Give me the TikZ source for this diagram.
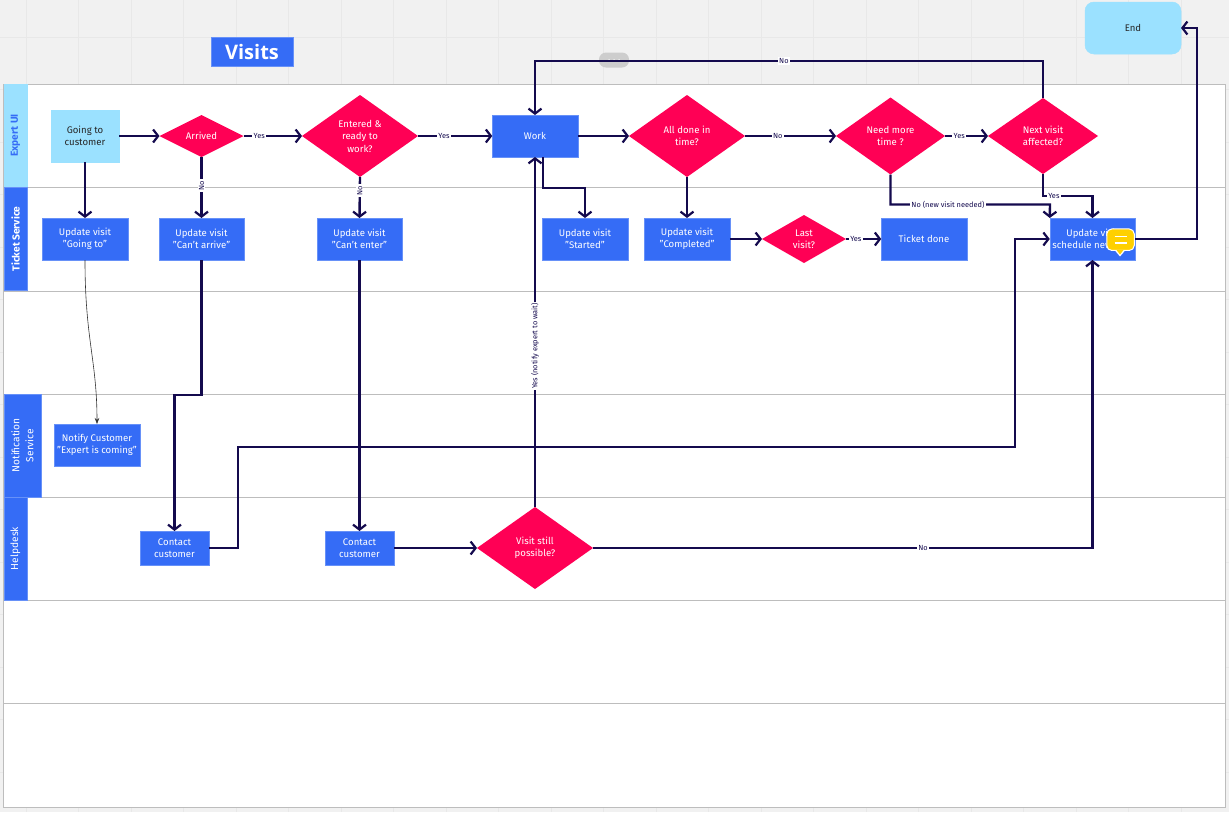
\documentclass[tikz,border=0pt]{standalone}
\usepackage{fontspec}
\setmainfont{Fira Sans}
\newfontfamily\titlefont{Open Sans}
\usepackage{xcolor}
\usetikzlibrary{arrows.meta}
\usetikzlibrary{shapes.geometric}
\definecolor{canvas}{HTML}{F1F1F1}
\definecolor{gridline}{HTML}{E8E8E8}
\definecolor{laneline}{HTML}{BDBDBD}
\definecolor{boxblue}{HTML}{356CF6}
\definecolor{paleblue}{HTML}{9BE1FF}
\definecolor{hotpink}{HTML}{FF0055}
\definecolor{navy}{HTML}{140A4E}
\definecolor{noteyellow}{HTML}{FFD000}
\tikzstyle{arrow} = [line width=2.4pt,draw=navy,-{Straight Barb[length=5pt,width=13pt,line width=2.2pt]}]
\tikzstyle{thinarrow} = [line width=0.6pt,draw=black!80,-{Stealth[length=6pt,width=4.5pt]}]
\tikzstyle{proc} = [rectangle,fill=boxblue,draw=boxblue!75!white,line width=0.5pt,text=white,font=\fontsize{9.6}{12.5}\selectfont,align=center,minimum width=85.5pt,minimum height=42pt,inner sep=0pt,outer sep=0pt]
\tikzstyle{contact} = [proc,minimum width=69pt,minimum height=34pt]
\tikzstyle{start} = [proc,fill=paleblue,draw=paleblue,text=black!85]
\tikzstyle{decide} = [diamond,aspect=1.4,fill=hotpink,text=white,font=\fontsize{9.6}{12.5}\selectfont,align=center,inner sep=0pt,outer sep=0pt,minimum width=116pt,minimum height=82pt]
\tikzstyle{lane} = [rectangle,rotate=90,fill=boxblue,draw=boxblue!75!white,line width=0.5pt,text=white,align=center,inner sep=0pt,outer sep=0pt,minimum width=103pt,minimum height=23pt,font=\fontsize{10.2}{14}\selectfont]
\tikzstyle{lbl} = [fill=white,text=navy,font=\fontsize{7.4}{8}\selectfont,inner xsep=1.5pt,inner ysep=1pt]
\begin{document}
\begin{tikzpicture}[x=1pt,y=-1pt]
    \useasboundingbox (0,0) rectangle (1229,812);

    % board behind the table
    \fill[canvas] (0,0) rectangle (1229,812);
    \foreach \gx in {26,78.5,...,1229} \draw[gridline] (\gx,0) -- (\gx,812);
    \foreach \gy in {37,89.5,...,812} \draw[gridline] (0,\gy) -- (1229,\gy);
    \fill[white] (3.5,84) rectangle (1225,807);
    \draw[laneline] (3.5,84) rectangle (1225,807);
    \foreach \ly in {187,291,394,497,600,703} \draw[laneline] (3.5,\ly) -- (1225,\ly);

    \node[rectangle,rounded corners=7pt,fill=canvas!85!black,minimum width=30pt,minimum height=15pt,inner sep=0pt] (pill) at (614,60) {};
    \foreach \dx in {-5,0,5} \fill[canvas] (614+\dx,60) circle (1pt);

    \node[proc,minimum width=82pt,minimum height=29pt,font=\titlefont\fontsize{20}{24}\selectfont\bfseries] (title) at (252,51.5) {Visits};

    % lanes
    \node[lane,fill=paleblue,draw=paleblue,text=boxblue,font=\fontsize{10.2}{14}\selectfont\bfseries] (laneui) at (15.5,135.5) {Expert UI};
    \node[lane,font=\fontsize{10.2}{14}\selectfont\bfseries] (laneticket) at (15.5,239) {Ticket Service};
    \node[lane,minimum height=37pt] (lanenotify) at (22.5,445.5) {Notification\\Service};
    \node[lane,font=\fontsize{10.2}{14}\selectfont\fontseries{l}\selectfont] (lanehelp) at (15.5,548.5) {Helpdesk};

    % top row
    \node[start,minimum width=68pt,minimum height=52pt] (going) at (85,136) {Going to\\customer};
    \node[decide,minimum width=84pt,minimum height=42pt] (arrived) at (201.5,136) {Arrived};
    \node[decide] (entered) at (360,136) {Entered \&\\ready to\\work?};
    \node[proc] (work) at (535,136) {Work};
    \node[decide] (alldone) at (687,136) {All done in\\time?};
    \node[decide,minimum width=109pt,minimum height=77pt] (needmore) at (890.5,136) {Need more\\time ?};
    \node[decide,minimum width=110pt,minimum height=76pt] (nextvisit) at (1043,136) {Next visit\\affected?};
    \node[proc,fill=paleblue,draw=paleblue,text=black!85,rectangle,rounded corners=9pt,minimum width=96pt,minimum height=52pt] (end) at (1133,28) {End};

    % second row
    \node[proc] (updgoing) at (85,239) {Update visit\\"Going to"};
    \node[proc] (updarrive) at (201.5,239) {Update visit\\"Can't arrive"};
    \node[proc] (updenter) at (359.5,239) {Update visit\\"Can't enter"};
    \node[proc] (updstart) at (585,239) {Update visit\\"Started"};
    \node[proc] (updcomp) at (687,239) {Update visit\\"Completed"};
    \node[decide,minimum width=84pt,minimum height=48pt] (lastvisit) at (804,239) {Last\\visit?};
    \node[proc] (ticket) at (924,239) {Ticket done};
    \node[proc] (updnew) at (1092.5,239) {Update visit\\schedule new visit};

    % lower rows
    \node[proc] (notify) at (97,445) {Notify Customer\\"Expert is coming"};
    \node[contact] (contacta) at (174.5,548) {Contact\\customer};
    \node[contact] (contactb) at (359.5,548) {Contact\\customer};
    \node[decide] (still) at (535,548) {Visit still\\possible?};

    % connectors
    \draw[arrow] (going.east) -- (arrived.west);
    \draw[arrow] (going.south) -- (updgoing.north);
    \draw[arrow] (arrived.east) -- node[lbl,pos=.27] (yesa) {Yes} (entered.west);
    \draw[arrow] (arrived.south) -- node[lbl,rotate=90,pos=.47] (noa) {No} (updarrive.north);
    \draw[arrow] (entered.east) -- node[lbl,pos=.35] (yesb) {Yes} (work.west);
    \draw[arrow] (entered.south) -- node[lbl,rotate=90,pos=.33] (nob) {No} (updenter.north);
    \draw[arrow] (work.east) -- (alldone.west);
    \draw[arrow] (work.south -| updstart.north west) ++(1,0) -- ++(0,31) -| (updstart.north);
    \draw[arrow] (alldone.east) -- node[lbl,pos=.36] (noc) {No} (needmore.west);
    \draw[arrow] (alldone.south) -- (updcomp.north);
    \draw[arrow] (needmore.east) -- node[lbl,pos=.33] (yesc) {Yes} (nextvisit.west);
    \draw[arrow] (needmore.south) -- ++(0,30) -- node[lbl,pos=.36] (nod) {No (new visit needed)} ++(159.5,0) -- (updnew.north west);
    \draw[arrow] (nextvisit.south) -- ++(0,22) -| node[lbl,pos=.11] (yesd) {Yes} (updnew.north);
    \draw[arrow] (nextvisit.north) -- ++(0,-37) -- node[lbl,pos=.51] (noe) {No} ++(-508,0) -- (work.north);
    \draw[arrow] (updcomp.east) -- (lastvisit.west);
    \draw[arrow] (lastvisit.east) -- node[lbl,pos=.28] (yese) {Yes} (ticket.west);
    \draw[arrow] (updnew.east) -- ++(62,0) |- (end.east);
    \draw[thinarrow] (updgoing.south) .. controls (85,340) and (97,360) .. (notify.north);
    \draw[arrow] (updarrive.south) -- ++(0,135) -| (contacta.north);
    \draw[arrow] (updenter.south) -- (contactb.north);
    \draw[arrow] (contacta.east) -- ++(29,0) |- (1015,447) |- (updnew.west);
    \draw[arrow] (contactb.east) -- (still.west);
    \draw[arrow] (still.north) -- node[lbl,rotate=90,pos=.46] (yesf) {Yes (notify expert to wait)} (work.south);
    \draw[arrow] (still.east) -- ++(499.5,0) -- (updnew.south);
    \node[lbl] (nof) at (923,548) {No};

    % comment marker
    \fill[white] (1114.5,250) -- (1120,256.5) -- (1125.5,250) -- cycle;
    \node[rectangle,rounded corners=5pt,fill=noteyellow,draw=white,line width=1pt,minimum width=27.5pt,minimum height=21.5pt,inner sep=0pt] (note) at (1120.5,239.7) {};
    \fill[noteyellow] (1116.5,250) -- (1120,254.5) -- (1123.5,250) -- cycle;
    \draw[white,line width=1.8pt] (1114.5,236.5) -- (1126.5,236.5) (1114.5,243) -- (1126.5,243);
\end{tikzpicture}
\end{document}
